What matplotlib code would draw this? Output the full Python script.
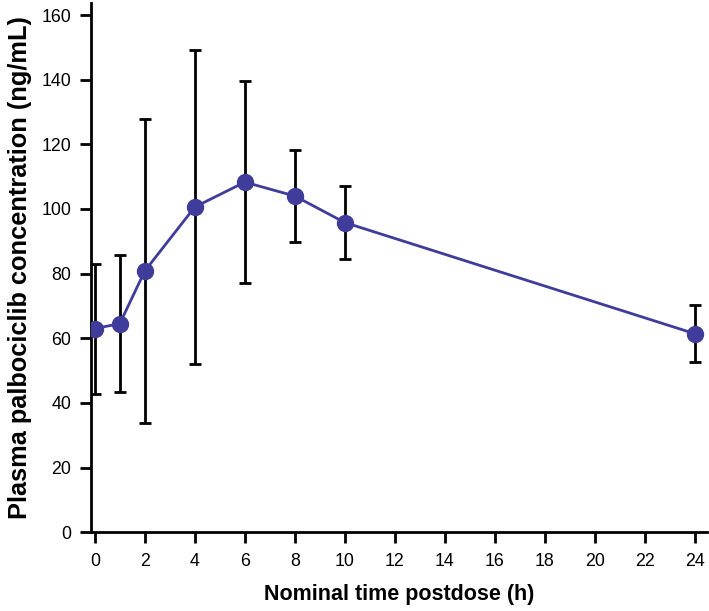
import matplotlib
matplotlib.use("Agg")
import matplotlib.pyplot as plt
import numpy as np

# mean plasma concentration with SD
time_h = [0, 1, 2, 4, 6, 8, 10, 24]
conc_mean = [63.0, 64.5, 80.8, 100.6, 108.3, 104.0, 95.8, 61.4]
conc_sd = [20.1, 21.2, 47.1, 48.7, 31.2, 14.3, 11.3, 8.9]
x_ticks = list(range(0, 25, 2))
y_ticks = list(range(0, 161, 20))

plt.rcParams['font.family'] = ['Liberation Sans', 'DejaVu Sans']

fig = plt.figure(figsize=(7.09, 6.11), dpi=100)
ax = fig.add_axes([0.128, 0.129, 0.869, 0.866])

ax.errorbar(time_h, conc_mean, yerr=conc_sd, fmt='none', ecolor='black',
            elinewidth=2, capsize=4.5, capthick=2, zorder=2)
ax.plot(time_h, conc_mean, '-o', color='#3f3c9b', lw=2, markersize=11.5, zorder=3)

ax.set_xlim(-0.16, 24.48)
ax.set_ylim(0, 163.7)
ax.set_xticks(x_ticks)
ax.set_yticks(y_ticks)
ax.tick_params(direction='out', length=8, width=2, labelsize=12.8, colors='black')
ax.tick_params(axis='x', pad=7)
ax.tick_params(axis='y', pad=6)
for s in ['top', 'right']:
    ax.spines[s].set_visible(False)
for s in ['left', 'bottom']:
    ax.spines[s].set_linewidth(2)

ax.set_xlabel('Nominal time postdose (h)', fontsize=15.5, fontweight='bold', labelpad=10)
ax.set_ylabel('Plasma palbociclib concentration (ng/mL)', fontsize=18.3, fontweight='bold', labelpad=7)

fig.savefig('out.png', dpi=100)
